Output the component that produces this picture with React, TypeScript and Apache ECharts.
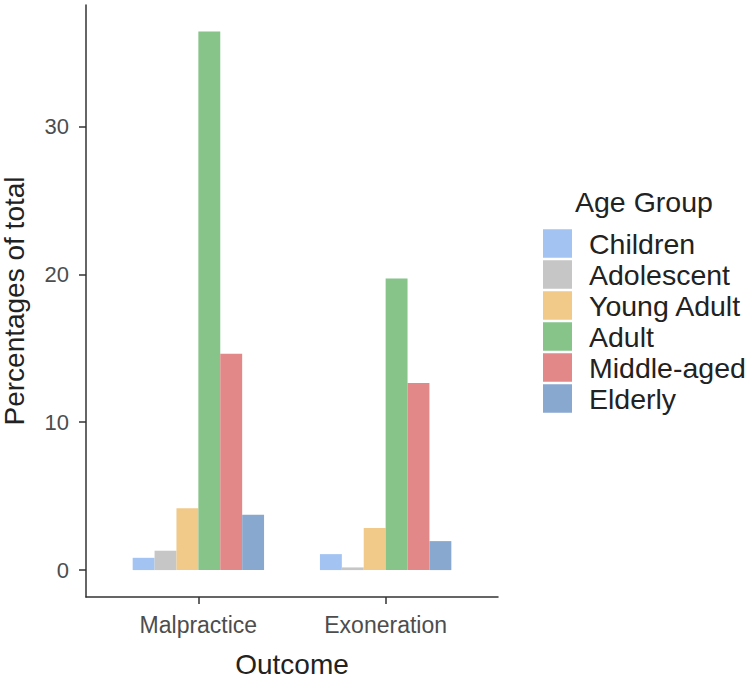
import React, { useEffect, useRef } from "react";
import * as echarts from "echarts";

const outcomes = ["Malpractice", "Exoneration"];
const outcomePositions = [1, 2];
const ageGroups = ["Children", "Adolescent", "Young Adult", "Adult", "Middle-aged", "Elderly"];
const malpractice = [0.83, 1.31, 4.18, 36.43, 14.63, 3.75];
const exoneration = [1.08, 0.18, 2.85, 19.72, 12.65, 1.96];
const groupColors = ["#a3c4f2", "#c6c6c6", "#f1ca8a", "#86c48a", "#e38888", "#89a8cf"];
const yTicks = [0, 10, 20, 30];

const FONT = "'Liberation Sans', Arial, Helvetica, sans-serif";

export default function App() {
  const ref = useRef<HTMLDivElement>(null);
  useEffect(() => {
    if (!ref.current) return;
    const chart = echarts.init(ref.current, undefined, { renderer: "svg" });
    const series = ageGroups.map((g, i) => ({
      name: g,
      type: "bar",
      data: outcomePositions.map((p, j) => [p, j === 0 ? malpractice[i] : exoneration[i]]),
      barWidth: 21.9,
      barGap: "0%",
      itemStyle: { color: groupColors[i] },
    }));
    chart.setOption({
      animation: false,
      textStyle: { fontFamily: FONT },
      grid: { left: 86, right: 253, top: 5, bottom: 82, containLabel: false, outerBoundsMode: "none" },
      xAxis: {
        type: "value",
        min: 0.4,
        max: 2.6,
        name: "Outcome",
        nameLocation: "middle",
        nameGap: 55.5,
        nameTextStyle: { fontSize: 28, lineHeight: 24, color: "#222", fontFamily: FONT },
        axisLine: { show: true, onZero: false, lineStyle: { color: "#333", width: 1.5 } },
        axisTick: { show: true, length: 7, customValues: outcomePositions, lineStyle: { color: "#333", width: 1.5 } },
        axisLabel: {
          customValues: outcomePositions,
          margin: 16,
          fontSize: 23,
          color: "#4d4d4d",
          fontFamily: FONT,
          formatter: (v: number) => {
            const k = outcomePositions.indexOf(v);
            return k >= 0 ? outcomes[k] : "";
          },
        },
        splitLine: { show: false },
      },
      yAxis: {
        type: "value",
        min: -1.82,
        max: 38.22,
        name: "Percentages of total",
        nameLocation: "middle",
        nameGap: 59.5,
        nameTextStyle: { fontSize: 28, lineHeight: 24, color: "#222", fontFamily: FONT },
        axisLine: { show: true, onZero: false, lineStyle: { color: "#333", width: 1.5 } },
        axisTick: { show: true, length: 7, customValues: yTicks, lineStyle: { color: "#333", width: 1.5 } },
        axisLabel: { customValues: yTicks, margin: 17, fontSize: 22, color: "#4d4d4d", fontFamily: FONT },
        splitLine: { show: false },
      },
      legend: {
        orient: "vertical",
        left: 538,
        top: 224,
        itemWidth: 29,
        itemHeight: 28.5,
        itemGap: 2,
        icon: "rect",
        data: ageGroups,
        textStyle: { fontSize: 28.5, lineHeight: 28.5, color: "#222", fontFamily: FONT, padding: [0, 0, 0, 12] },
      },
      graphic: [
        {
          type: "text",
          left: 575,
          top: 187,
          style: { text: "Age Group", fontSize: 28.5, fill: "#222", fontFamily: FONT },
        },
      ],
      series,
    });
    return () => chart.dispose();
  }, []);
  return <div ref={ref} style={{ position: "absolute", left: 0, top: 0, width: 751, height: 679 }} />;
}
